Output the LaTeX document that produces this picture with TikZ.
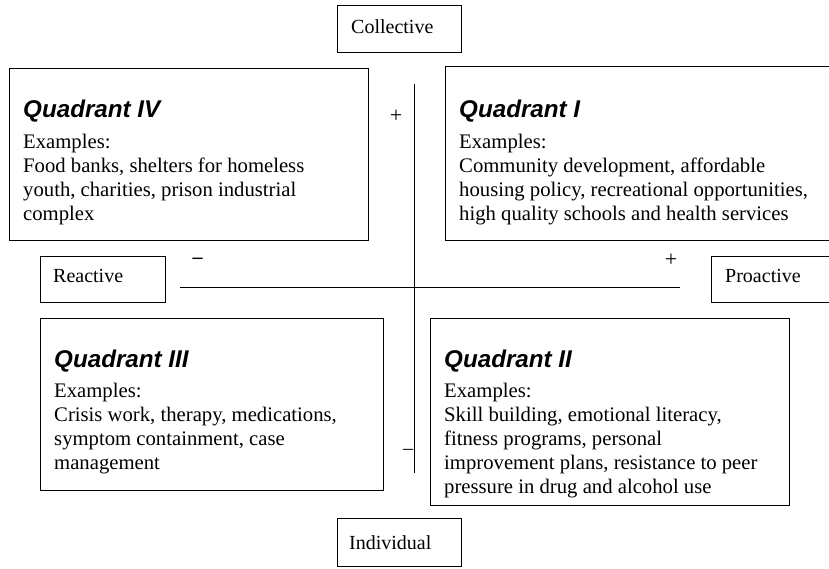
\documentclass[tikz,border=0pt]{standalone}
\usepackage{fontspec}
\setmainfont{Liberation Serif}
\newfontfamily\headfont{Liberation Sans}
\begin{document}
\begin{tikzpicture}[x=1pt,y=-1pt,
  frame/.style={draw, line width=0.8pt, inner sep=0pt, anchor=north west},
  head/.style={anchor=base west, inner sep=0pt, font=\headfont\bfseries\itshape\fontsize{24.2}{28}\selectfont},
  body/.style={anchor=base west, inner sep=0pt, font=\fontsize{20.7}{24}\selectfont},
  lab/.style={anchor=base west, inner sep=0pt, font=\fontsize{20}{24}\selectfont},
  axis/.style={line width=1pt},
  sign/.style={inner sep=0pt, font=\fontsize{22}{24}\selectfont}]
\useasboundingbox (0,0) rectangle (829,568);
% axis boxes
\node[frame, minimum width=124pt, minimum height=47pt] (colb) at (337,5) {};
\node[lab] (colt) at (351,33) {Collective};
\node[frame, minimum width=124pt, minimum height=48pt] (indb) at (337,518) {};
\node[lab] (indt) at (349,549) {Individual};
\node[frame, minimum width=125pt, minimum height=46pt] (reab) at (40,256) {};
\node[lab] (reat) at (53,282) {Reactive};
\node[frame, minimum width=124pt, minimum height=46pt] (prob) at (711,256) {};
\node[lab] (prot) at (725,282) {Proactive};
% quadrant boxes
\node[frame, minimum width=359pt, minimum height=172pt] (q4) at (9,68) {};
\node[head] (q4h) at (23,117) {Quadrant IV};
\node[body] (q4t) at (23,148) {\parbox[t]{400pt}{Examples:\\Food banks, shelters for homeless\\youth, charities, prison industrial\\complex}};
\node[frame, minimum width=390pt, minimum height=174pt] (q1) at (445,66) {};
\node[head] (q1h) at (459,117) {Quadrant I};
\node[body] (q1t) at (459,148) {\parbox[t]{400pt}{Examples:\\Community development, affordable\\housing policy, recreational opportunities,\\high quality schools and health services}};
\node[frame, minimum width=343pt, minimum height=172pt] (q3) at (40,318) {};
\node[head] (q3h) at (54,367) {Quadrant III};
\node[body] (q3t) at (54,397) {\parbox[t]{400pt}{Examples:\\Crisis work, therapy, medications,\\symptom containment, case\\management}};
\node[frame, minimum width=359pt, minimum height=187pt] (q2) at (430,318) {};
\node[head] (q2h) at (444,367) {Quadrant II};
\node[body] (q2t) at (444,397) {\parbox[t]{400pt}{Examples:\\Skill building, emotional literacy,\\fitness programs, personal\\improvement plans, resistance to peer\\pressure in drug and alcohol use}};
% axes
\coordinate (vt) at (414,84);
\coordinate (vb) at (414,473);
\coordinate (hl) at (180,287);
\coordinate (hr) at (680,287);
\draw[axis] (vt) -- (vb);
\draw[axis] (hl) -- (hr);
\node[sign] (pt) at (396,116) {+};
\node[sign, font=\fontsize{20}{22}\selectfont] (mb) at (408,452) {–};
\node[sign, font=\bfseries\fontsize{20}{22}\selectfont] (ml) at (197.5,261) {–};
\node[sign] (pr) at (671,260) {+};
\end{tikzpicture}
\end{document}
